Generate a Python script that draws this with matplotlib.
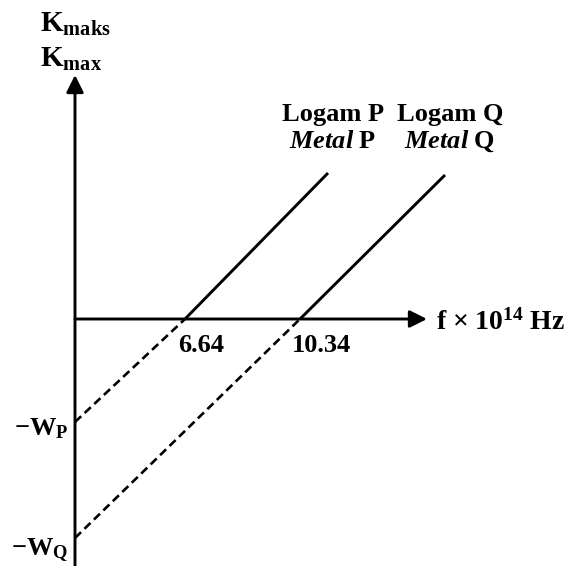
import numpy as np
import matplotlib.pyplot as plt

plt.rcParams['font.family'] = 'Liberation Serif'
plt.rcParams['font.weight'] = 'bold'
plt.rcParams['mathtext.fontset'] = 'custom'
plt.rcParams['mathtext.rm'] = 'Liberation Serif:bold'
plt.rcParams['mathtext.it'] = 'Liberation Serif:italic:bold'
plt.rcParams['mathtext.bf'] = 'Liberation Serif:bold'

# two metals, threshold frequency labels (x 10^14 Hz)
metals = ['P', 'Q']
f_labels = ['6.64', '10.34']

# the sketch is not to scale: schematic positions
f0 = [1.10, 2.25]        # where each line crosses the f axis
work = [1.03, 2.19]      # work function W (intercept at -W)
f_end = [2.53, 3.70]     # top end of each solid line
k_end = [1.46, 1.44]

fig = plt.figure(figsize=(5.69, 5.66), dpi=100)
ax = fig.add_axes([0, 0, 1, 1])
ax.set_xlim(-0.75, 4.94)
ax.set_ylim(-2.47, 3.19)
ax.axis('off')

arrow = dict(arrowstyle='-|>', mutation_scale=26, lw=2.1, color='black',
             shrinkA=0, shrinkB=0)
# axes with arrows
ax.annotate('', xy=(0, 2.44), xytext=(0, -2.47), arrowprops=arrow)
ax.annotate('', xy=(3.52, 0), xytext=(0, 0), arrowprops=arrow)

for i in range(len(metals)):
    ax.plot([0, f0[i]], [-work[i], 0], color='black', lw=1.9,
            linestyle=(0, (3.2, 1.8)))
    ax.plot([f0[i], f_end[i]], [0, k_end[i]], color='black', lw=2.1,
            solid_capstyle='butt')
    ax.text(f_end[i] + 0.05, 1.98, 'Logam ' + metals[i], fontsize=19,
            ha='center', va='baseline')
    ax.text(f_end[i] + 0.05, 1.71, r'$\mathit{Metal}$ ' + metals[i],
            fontsize=19, ha='center', va='baseline')
    ax.text(f0[i] + 0.16 + 0.06 * i, -0.33, f_labels[i], fontsize=19,
            ha='center', va='baseline')
    ax.text(-0.07, -work[i] - 0.13 - 0.04 * i, r'$-$W$_{\mathrm{%s}}$' % metals[i],
            fontsize=19, ha='right', va='baseline')

ax.text(-0.35, 2.87, r'K$_{\mathrm{maks}}$', fontsize=21, ha='left', va='baseline')
ax.text(-0.35, 2.52, r'K$_{\mathrm{max}}$', fontsize=21, ha='left', va='baseline')
ax.text(3.61, -0.11, r'f $\times$ 10$^{\mathrm{14}}$ Hz', fontsize=20,
        ha='left', va='baseline')

plt.savefig('out.png', dpi=100)
